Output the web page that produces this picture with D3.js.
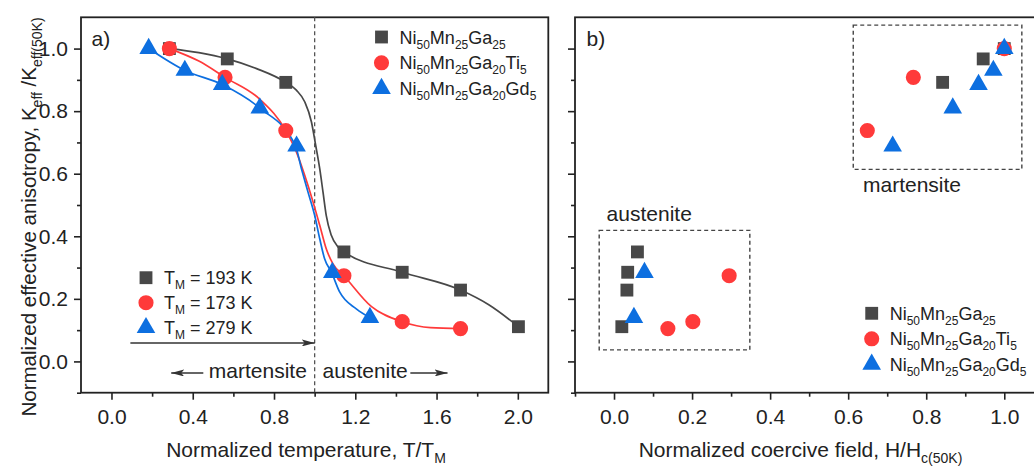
<!DOCTYPE html>
<html>
<head>
<meta charset="utf-8">
<script src="https://cdn.jsdelivr.net/npm/d3@7"></script>
<style>
  body { margin: 0; background: #fff; }
  svg text { font-family: "Liberation Sans", Arial, sans-serif; fill: #222; }
  .axis path { display: none; }
  .axis line { stroke: #222; stroke-width: 1.6; }
  .axis text { font-size: 21px; }
</style>
</head>
<body>
<div id="chart"></div>
<script>
// samples (same order in both panels)
var sampleNames = [
    [["Ni"], ["50", 1], ["Mn"], ["25", 1], ["Ga"], ["25", 1]],
    [["Ni"], ["50", 1], ["Mn"], ["25", 1], ["Ga"], ["20", 1], ["Ti"], ["5", 1]],
    [["Ni"], ["50", 1], ["Mn"], ["25", 1], ["Ga"], ["20", 1], ["Gd"], ["5", 1]]
];
var tmLabels = ["193 K", "173 K", "279 K"];

// panel a: K_eff/K_eff(50K) vs T/T_M
var tRatioNMG = [0.285, 0.57, 0.858, 1.144, 1.431, 1.718, 2.003];
var kNMG      = [1.0, 0.967, 0.892, 0.35, 0.285, 0.228, 0.111];
var tRatioTi  = [0.285, 0.559, 0.858, 1.144, 1.431, 1.718];
var kTi       = [1.0, 0.908, 0.738, 0.274, 0.127, 0.105];
var tRatioGd  = [0.183, 0.361, 0.545, 0.73, 0.911, 1.087, 1.272];
var kGd       = [1.0, 0.93, 0.885, 0.81, 0.688, 0.284, 0.14];

// fitted curves
var fitNMGx = [0.285, 0.43, 0.57, 0.714, 0.858, 0.91, 0.951, 0.984, 1.005, 1.025, 1.041, 1.057, 1.082, 1.115, 1.144, 1.431, 1.718, 1.857, 2.003];
var fitNMGy = [1.0, 0.987, 0.967, 0.936, 0.892, 0.867, 0.83, 0.766, 0.691, 0.616, 0.542, 0.467, 0.403, 0.366, 0.35, 0.285, 0.228, 0.181, 0.111];
var fitTix  = [0.285, 0.43, 0.559, 0.73, 0.858, 0.91, 0.951, 0.992, 1.025, 1.057, 1.09, 1.144, 1.28, 1.431, 1.57, 1.718];
var fitTiy  = [1.0, 0.96, 0.908, 0.838, 0.738, 0.67, 0.595, 0.51, 0.435, 0.36, 0.312, 0.274, 0.175, 0.127, 0.108, 0.105];
var fitGdx  = [0.183, 0.361, 0.545, 0.73, 0.905, 0.935, 0.967, 1.0, 1.025, 1.049, 1.082, 1.123, 1.205, 1.272];
var fitGdy  = [1.0, 0.93, 0.885, 0.81, 0.69, 0.616, 0.542, 0.467, 0.392, 0.328, 0.286, 0.222, 0.168, 0.14];

// panel b: K_eff/K_eff(50K) vs H_c/H_c(50K)
var hcNMG = [1.0, 0.946, 0.842, 0.060, 0.035, 0.033, 0.020];
var hcTi  = [1.0, 0.767, 0.649, 0.295, 0.202, 0.138];
var hcGd  = [1.0, 0.972, 0.934, 0.868, 0.714, 0.078, 0.051];

// ticks
var xTicksA = [0.0, 0.4, 0.8, 1.2, 1.6, 2.0];
var xMinorA = [0.2, 0.6, 1.0, 1.4, 1.8];
var xTicksB = [0.0, 0.2, 0.4, 0.6, 0.8, 1.0];
var xMinorB = [-0.1, 0.1, 0.3, 0.5, 0.7, 0.9];
var yTicks  = [0.0, 0.2, 0.4, 0.6, 0.8, 1.0];
var yMinor  = [-0.1, 0.1, 0.3, 0.5, 0.7, 0.9];

var colors = ["#484848", "#ff3a3a", "#0d6fe0"];
var shapes = [d3.symbolSquare, d3.symbolCircle, d3.symbolTriangle];
var sizes = [165, 180, 150];

var w = 1034;
var h = 467;
var top_ = 17.3, bottom = 392.7;

var xScaleA = d3.scaleLinear().domain([-0.15, 2.15]).range([81, 548.3]);
var xScaleB = d3.scaleLinear().domain([-0.1, 1.1]).range([575, 1043.3]);
var yScale = d3.scaleLinear().domain([-0.1, 1.1]).range([bottom, top_]);

var svg = d3.select("#chart")
    .append("svg")
    .attr("width", w)
    .attr("height", h);

// arrowhead
svg.append("defs").append("marker")
    .attr("id", "arrow")
    .attr("markerUnits", "userSpaceOnUse")
    .attr("markerWidth", 13)
    .attr("markerHeight", 7)
    .attr("refX", 13)
    .attr("refY", 3.5)
    .attr("orient", "auto")
    .append("path")
    .attr("d", "M0,0 L13,3.5 L0,7 L3,3.5 Z")
    .attr("fill", "#333");

// writes text with subscripts; the tspan after a subscript moves back up
function richText(sel, parts, size) {
    var sub = Math.round(size * 0.66);
    var shift = size * 0.28;
    var down = 0;
    parts.forEach(function(p) {
        var t = sel.append("tspan");
        if (p[1]) {
            t.attr("dy", shift - down).style("font-size", sub + "px");
            down = shift;
        } else {
            if (down) t.attr("dy", -down);
            t.style("font-size", size + "px");
            down = 0;
        }
        t.text(p[0]);
    });
    return sel;
}

function symbolPath(i) {
    return d3.symbol().type(shapes[i]).size(sizes[i])();
}

function drawAxes(xScale, xTicks, xMinor, showYLabels) {
    svg.append("g")
        .attr("class", "axis")
        .attr("transform", "translate(0," + bottom + ")")
        .call(d3.axisBottom(xScale).tickValues(xTicks).tickSize(7).tickSizeOuter(0)
            .tickPadding(9).tickFormat(d3.format(".1f")));
    svg.append("g")
        .attr("class", "axis")
        .attr("transform", "translate(0," + bottom + ")")
        .call(d3.axisBottom(xScale).tickValues(xMinor).tickSize(4).tickSizeOuter(0).tickFormat(""));
    var x0 = xScale.range()[0];
    svg.append("g")
        .attr("class", "axis")
        .attr("transform", "translate(" + x0 + ",0)")
        .call(d3.axisLeft(yScale).tickValues(yTicks).tickSize(7).tickSizeOuter(0)
            .tickPadding(6).tickFormat(showYLabels ? d3.format(".1f") : ""));
    svg.append("g")
        .attr("class", "axis")
        .attr("transform", "translate(" + x0 + ",0)")
        .call(d3.axisLeft(yScale).tickValues(yMinor).tickSize(4).tickSizeOuter(0).tickFormat(""));
    // frame
    svg.append("rect")
        .attr("x", x0)
        .attr("y", top_)
        .attr("width", xScale.range()[1] - x0)
        .attr("height", bottom - top_)
        .attr("fill", "none")
        .attr("stroke", "#222")
        .attr("stroke-width", 1.8);
}

function drawPoints(xScale, xs, ys, i) {
    svg.append("g").selectAll("path")
        .data(xs.map(function(x, j) { return [x, ys[j]]; }))
        .enter()
        .append("path")
        .attr("d", symbolPath(i))
        .attr("transform", function(d) {
            return "translate(" + xScale(d[0]) + "," + yScale(d[1]) + ")";
        })
        .attr("fill", colors[i]);
}

function drawLegend(x, y0, step, labelFn) {
    [0, 1, 2].forEach(function(i) {
        var y = y0 + i * step;
        svg.append("path")
            .attr("d", symbolPath(i))
            .attr("transform", "translate(" + x + "," + y + ")")
            .attr("fill", colors[i]);
        labelFn(svg.append("text").attr("x", x + 18).attr("y", y + 6.5), i);
    });
}

// ---------- panel a ----------
drawAxes(xScaleA, xTicksA, xMinorA, true);

svg.append("line")
    .attr("x1", xScaleA(1.0)).attr("x2", xScaleA(1.0))
    .attr("y1", top_).attr("y2", bottom)
    .attr("stroke", "#555")
    .attr("stroke-width", 1.3)
    .attr("stroke-dasharray", "4,3");

var line = d3.line()
    .x(function(d) { return xScaleA(d[0]); })
    .y(function(d) { return yScale(d[1]); })
    .curve(d3.curveMonotoneX);

[[fitNMGx, fitNMGy], [fitTix, fitTiy], [fitGdx, fitGdy]].forEach(function(f, i) {
    svg.append("path")
        .datum(f[0].map(function(x, j) { return [x, f[1][j]]; }))
        .attr("d", line)
        .attr("fill", "none")
        .attr("stroke", colors[i])
        .attr("stroke-width", 1.7);
});

drawPoints(xScaleA, tRatioNMG, kNMG, 0);
drawPoints(xScaleA, tRatioTi, kTi, 1);
drawPoints(xScaleA, tRatioGd, kGd, 2);

drawLegend(381.5, 37, 25.8, function(t, i) { richText(t, sampleNames[i], 18); });
drawLegend(146, 277.7, 25, function(t, i) {
    richText(t, [["T"], ["M", 1], [" = " + tmLabels[i]]], 18);
});

// arrows and phase labels
svg.append("line")
    .attr("x1", xScaleA(0.093)).attr("x2", xScaleA(1.0))
    .attr("y1", yScale(0.059)).attr("y2", yScale(0.059))
    .attr("stroke", "#333").attr("stroke-width", 1.4)
    .attr("marker-end", "url(#arrow)");
svg.append("line")
    .attr("x1", xScaleA(0.452)).attr("x2", xScaleA(0.294))
    .attr("y1", yScale(-0.037)).attr("y2", yScale(-0.037))
    .attr("stroke", "#333").attr("stroke-width", 1.4)
    .attr("marker-end", "url(#arrow)");
svg.append("line")
    .attr("x1", xScaleA(1.471)).attr("x2", xScaleA(1.654))
    .attr("y1", yScale(-0.037)).attr("y2", yScale(-0.037))
    .attr("stroke", "#333").attr("stroke-width", 1.4)
    .attr("marker-end", "url(#arrow)");
svg.append("text")
    .attr("x", xScaleA(0.479)).attr("y", yScale(-0.037) + 5.5)
    .style("font-size", "21px").text("martensite");
svg.append("text")
    .attr("x", xScaleA(1.039)).attr("y", yScale(-0.037) + 5.5)
    .style("font-size", "21px").text("austenite");

svg.append("text").attr("x", 91.5).attr("y", 46).style("font-size", "21px").text("a)");

// axis titles
richText(svg.append("text").attr("x", 306).attr("y", 457).attr("text-anchor", "middle"),
    [["Normalized temperature, T/T"], ["M", 1]], 21);
richText(svg.append("text")
        .attr("transform", "translate(36,217) rotate(-90)")
        .attr("text-anchor", "middle"),
    [["Normalized effective anisotropy, K"], ["eff", 1], [" /K"], ["eff(50K)", 1]], 20.5);

// ---------- panel b ----------
drawAxes(xScaleB, xTicksB, xMinorB, false);

// phase boxes
[[0.613, 1.045, 0.614, 1.075], [-0.038, 0.348, 0.037, 0.419]].forEach(function(b) {
    svg.append("rect")
        .attr("x", xScaleB(b[0]))
        .attr("y", yScale(b[3]))
        .attr("width", xScaleB(b[1]) - xScaleB(b[0]))
        .attr("height", yScale(b[2]) - yScale(b[3]))
        .attr("fill", "none")
        .attr("stroke", "#444")
        .attr("stroke-width", 1.4)
        .attr("stroke-dasharray", "4,3");
});
svg.append("text").attr("x", xScaleB(0.638)).attr("y", yScale(0.543))
    .style("font-size", "21px").text("martensite");
svg.append("text").attr("x", xScaleB(-0.019)).attr("y", yScale(0.448))
    .style("font-size", "21px").text("austenite");

drawPoints(xScaleB, hcNMG, kNMG, 0);
drawPoints(xScaleB, hcTi, kTi, 1);
drawPoints(xScaleB, hcGd, kGd, 2);

drawLegend(871.7, 313.3, 25.5, function(t, i) { richText(t, sampleNames[i], 18); });

svg.append("text").attr("x", 586.5).attr("y", 46).style("font-size", "21px").text("b)");

richText(svg.append("text").attr("x", 800.5).attr("y", 457).attr("text-anchor", "middle"),
    [["Normalized coercive field, H/H"], ["c(50K)", 1]], 21);
</script>
</body>
</html>
